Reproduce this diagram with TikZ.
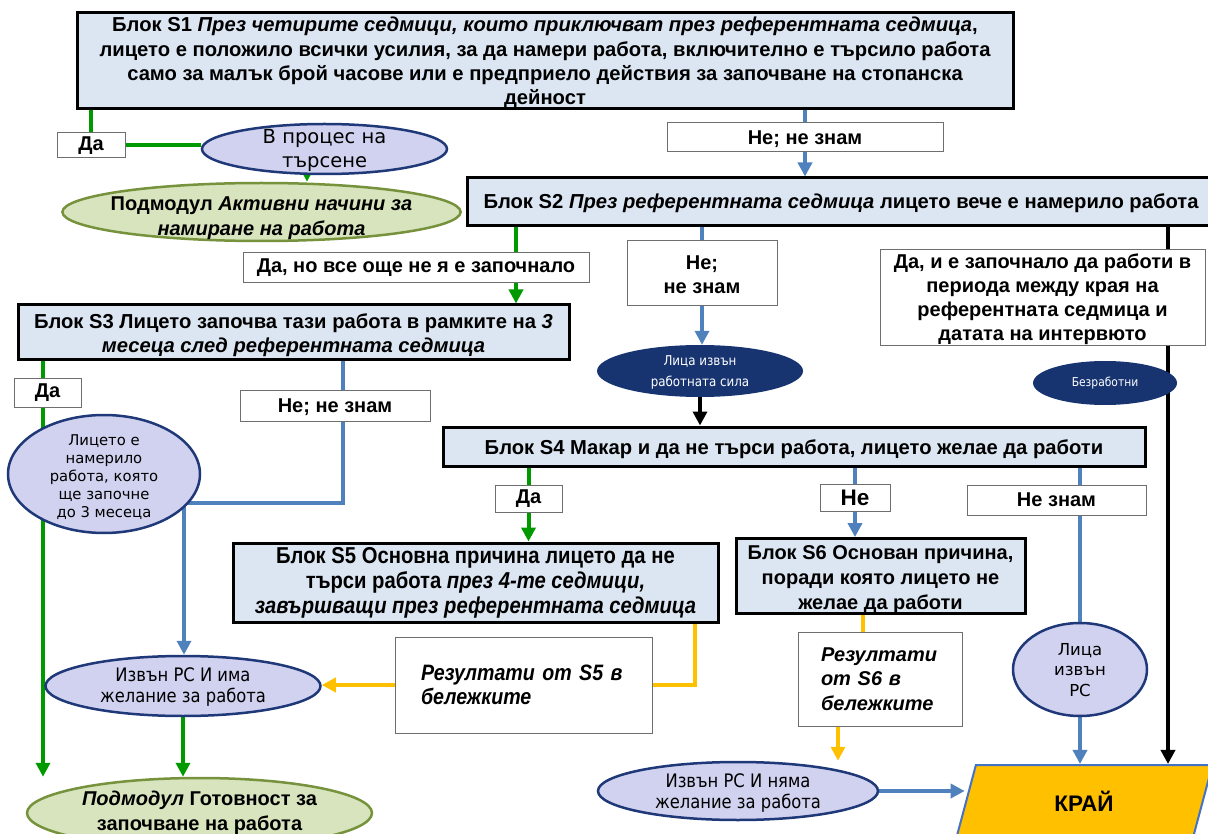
\documentclass[tikz,border=0pt]{standalone}
\usepackage{fontspec}
\setmainfont{Liberation Sans}
\newfontfamily\ari{Liberation Sans}
\newfontfamily\nar[FakeStretch=0.88]{Liberation Sans}
\newfontfamily\dvs{DejaVu Sans}
\newfontfamily\dvc[FakeStretch=0.88]{DejaVu Sans}
\usetikzlibrary{shapes.geometric,arrows.meta,calc}
\pgfdeclarelayer{bg}
\pgfsetlayers{bg,main}
\definecolor{bfill}{RGB}{220,230,242}
\definecolor{lgray}{RGB}{110,110,110}
\definecolor{lavf}{RGB}{208,210,239}
\definecolor{eborder}{RGB}{31,56,120}
\definecolor{navy}{RGB}{23,52,112}
\definecolor{gfill}{RGB}{215,228,189}
\definecolor{olivb}{RGB}{118,146,60}
\definecolor{lgreen}{RGB}{0,153,0}
\definecolor{lblue}{RGB}{79,129,189}
\definecolor{yell}{RGB}{255,192,0}
\definecolor{endb}{RGB}{68,114,196}
\newcommand{\fsz}[2]{\fontsize{#1}{#2}\selectfont}
\newcommand{\dn}[1]{\rule{0pt}{#1}}
\begin{document}
\begin{tikzpicture}[x=1pt,y=-1pt,
 blk/.style={draw=black,line width=3pt,fill=bfill,inner sep=0pt,align=center,font=\ari\bfseries\fsz{20.2}{24.3}},
 lbl/.style={draw=lgray,line width=1pt,fill=white,inner sep=0pt,align=center,font=\ari\bfseries\fsz{20}{24}},
 lav/.style={ellipse,draw=eborder,line width=2.5pt,fill=lavf,inner sep=0pt,align=center},
 dark/.style={ellipse,fill=navy,text=white,inner sep=0pt,align=center},
 grn/.style={ellipse,draw=olivb,line width=2.5pt,fill=gfill,inner sep=0pt,align=center,font=\ari\bfseries\fsz{20}{24.5}},
 cg/.style={draw=lgreen,line width=4pt},
 cb/.style={draw=lblue,line width=4pt},
 cy/.style={draw=yell,line width=4pt},
 ck/.style={draw=black,line width=4pt},
 tip/.style={-{Triangle[length=14pt,width=14pt]}},
]
\useasboundingbox (0,0) rectangle (1208,834);

% main blocks
\node[blk,minimum width=936,minimum height=95] (s1) at (545,60.5)
 {\dn{19.7pt}Блок S1 \textit{През четирите седмици, които приключват през референтната седмица},\\
 лицето е положило всички усилия, за да намери работа, включително е търсило работа\\
 само за малък брой часове или е предприело действия за започване на стопанска\\
 дейност};
\node[blk,minimum width=748,minimum height=48] (s2) at (841,202)
 {\dn{17pt}Блок S2 \textit{През референтната седмица} лицето вече е намерило работа};
\node[blk,minimum width=551,minimum height=55] (s3) at (293.5,332.5)
 {\dn{20.7pt}Блок S3 Лицето започва тази работа в рамките на \textit{3}\\ \textit{месеца след референтната седмица}};
\node[blk,minimum width=702,minimum height=39] (s4) at (794,446.5)
 {\dn{19.7pt}Блок S4 Макар и да не търси работа, лицето желае да работи};
\node[blk,minimum width=485,minimum height=79,font=\nar\bfseries\fsz{23}{25}] (s5) at (475.5,582.5)
 {Блок S5 Основна причина лицето да не\\ търси работа \textit{през 4-те седмици,}\\ \textit{завършващи през референтната седмица}};
\node[blk,minimum width=289,minimum height=72,font=\ari\bfseries\fsz{20}{25}] (s6) at (880.5,576)
 {\dn{20.7pt}Блок S6 Основан причина,\\ поради която лицето не\\ желае да работи};

% answer labels
\node[lbl,minimum width=68,minimum height=25] (da1) at (91,145.5) {Да};
\node[lbl,minimum width=276,minimum height=29] (nz1) at (805,137.5) {\dn{17pt}Не; не знам};
\node[lbl,minimum width=346,minimum height=30] (dano) at (416,268) {Да, но все още не я е започнало};
\node[lbl,minimum width=150,minimum height=65] (nz2) at (702,273.5) {\dn{17pt}Не;\\ не знам};
\node[lbl,minimum width=325,minimum height=96] (yes2) at (1042.5,298)
 {\dn{17pt}Да, и е започнало да работи в\\ периода между края на\\ референтната седмица и\\ датата на интервюто};
\node[lbl,minimum width=67,minimum height=28] (da3) at (47.5,393) {Да};
\node[lbl,minimum width=190,minimum height=31] (nz3) at (335,405.5) {\dn{17pt}Не; не знам};
\node[lbl,minimum width=67,minimum height=27] (da4) at (528.5,498.5) {Да};
\node[lbl,minimum width=70,minimum height=27,font=\ari\bfseries\fsz{22.5}{24}] (ne4) at (855,497.5) {Не};
\node[lbl,minimum width=179,minimum height=30] (nz4) at (1056.5,500) {Не знам};
\node[lbl,minimum width=257,minimum height=96,text width=205,align=left,font=\nar\bfseries\itshape\fsz{22.3}{23.5}] (res5) at (523.5,685)
 {Резултати от S5 в\\ бележките};
\node[lbl,minimum width=164,minimum height=94,text width=118,align=left,font=\ari\bfseries\itshape\fsz{20}{24.5}] (res6) at (880,679)
 {Резултати\\ от S6 в\\ бележките};

% ellipses
\node[lav,minimum width=245,minimum height=50,inner sep=-6pt,font=\dvs\fsz{19.5}{24}] (proc) at (324.5,149) {\dn{16.5pt}В процес на\\ търсене};
\node[grn,minimum width=369,minimum height=58,inner sep=-10pt] (active) at (261.5,212)
 {\dn{26pt}Подмодул \textit{Активни начини за}\\ \textit{намиране на работа}};
\node[dark,minimum width=206,minimum height=52,font=\dvc\fsz{13.5}{21}] (lfo) at (700,371) {\dn{12.5pt}Лица извън\\ работната сила};
\node[dark,minimum width=144,minimum height=44,font=\dvc\fsz{12.2}{15}] (bez) at (1105,383) {Безработни};
\node[lav,minimum width=192,minimum height=118,inner sep=-14pt,font=\dvs\fsz{14.8}{18}] (found) at (104,474)
 {\dn{16.8pt}Лицето е\\ намерило\\ работа, която\\ ще започне\\ до 3 месеца};
\node[lav,minimum width=275,minimum height=60,inner sep=-6pt,font=\dvc\fsz{18.6}{21}] (izv1) at (183,686) {\dn{15pt}Извън PC И има\\ желание за работа};
\node[lav,minimum width=134,minimum height=93,inner sep=-4pt,font=\dvs\fsz{16.5}{20.5}] (lizv) at (1080,669.5) {\dn{13pt}Лица\\ извън\\ PC};
\node[lav,minimum width=280,minimum height=58,inner sep=-6pt,font=\dvc\fsz{18.6}{21}] (izv2) at (738,791) {\dn{17.6pt}Извън PC И няма\\ желание за работа};
\node[grn,minimum width=345,minimum height=70,inner sep=-8pt] (gotov) at (199.5,813)
 {\textit{Подмодул} Готовност за\\ започване на работа};
\node[trapezium,trapezium left angle=75,trapezium right angle=105,
 draw=endb,line width=2pt,fill=yell,inner xsep=78.5pt,inner ysep=30pt,text height=16pt,text depth=0pt,
 font=\ari\bfseries\fsz{22.5}{24}] (end) at (1084,803) {КРАЙ};

% x positions of connectors
\coordinate (xg1) at (307,0);
\coordinate (xg2) at (516,0);
\coordinate (xk) at (1168,0);
\coordinate (xg3) at (43,0);
\coordinate (xb3) at (343,0);
\coordinate (bend3) at (184,503);
\coordinate (xy5) at (695,0);
\coordinate (xy6) at (863,0);
\coordinate (xy6b) at (838,0);

\begin{pgfonlayer}{bg}
\draw[cg] (da1.north |- s1.south) -- (da1.north);
\draw[cg] (da1.east) -- (da1.east -| proc.west);
\draw[cg,tip] (xg1 |- proc.south) -- (xg1 |- active.north);
\draw[cb] (nz1.north |- s1.south) -- (nz1.north);
\draw[cb,tip] (nz1.south) -- (nz1.south |- s2.north);
\draw[cg] (xg2 |- s2.south) -- (xg2 |- dano.north);
\draw[cg,tip] (xg2 |- dano.south) -- (xg2 |- s3.north);
\draw[cb] (nz2.north |- s2.south) -- (nz2.north);
\draw[cb,tip] (nz2.south) -- (nz2.south |- lfo.north);
\draw[ck,tip] (lfo.south) -- (lfo.south |- s4.north);
\draw[ck,tip] (xk |- s2.south) -- (xk |- end.north);
\draw[cg,tip] (xg3 |- s3.south) -- (xg3 |- gotov.north);
\draw[cb] (xb3 |- s3.south) -- (xb3 |- nz3.north);
\draw[cb,tip] (xb3 |- nz3.south) |- (bend3) -- (bend3 |- izv1.north);
\draw[cg] (da4.north |- s4.south) -- (da4.north);
\draw[cg,tip] (da4.south) -- (da4.south |- s5.north);
\draw[cb] (ne4.north |- s4.south) -- (ne4.north);
\draw[cb,tip] (ne4.south) -- (ne4.south |- s6.north);
\draw[cb] (lizv.north |- s4.south) -- (lizv.north);
\draw[cb,tip] (lizv.south) -- (lizv.south |- end.north);
\draw[cy] (xy5 |- s5.south) |- (res5.east);
\draw[cy,tip] (res5.west) -- (res5.west -| izv1.east);
\draw[cy] (xy6 |- s6.south) -- (xy6 |- res6.north);
\draw[cy,tip] (xy6b |- res6.south) -- (xy6b |- izv2.north);
\draw[cg,tip] (izv1.south) -- (izv1.south |- gotov.north);
\draw[cb,tip] (izv2.east) -- (izv2.east -| end.west);
\end{pgfonlayer}
\end{tikzpicture}
\end{document}
